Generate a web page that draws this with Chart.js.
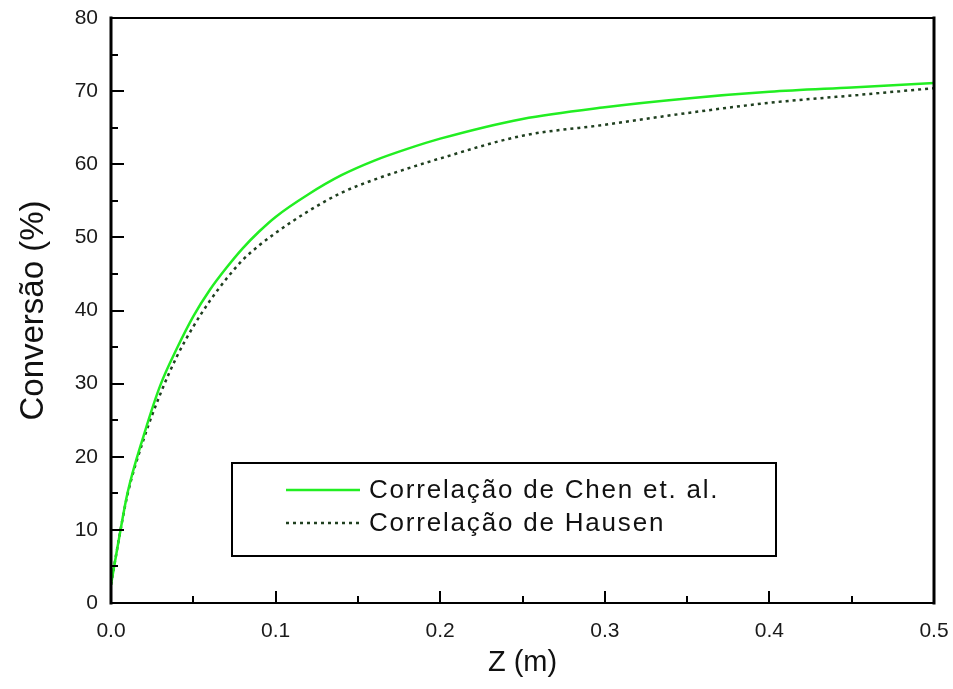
<!DOCTYPE html>
<html>
<head>
<meta charset="utf-8">
<script src="https://cdn.jsdelivr.net/npm/chart.js@4/dist/chart.umd.min.js"></script>
<style>
  body { margin: 0; background: #fff; }
  #wrap { width: 953px; height: 689px; }
</style>
</head>
<body>
<div id="wrap"><canvas id="convChart" width="953" height="689"></canvas></div>
<script>
// values
const zValues = [0, 0.005, 0.01, 0.02, 0.03, 0.04, 0.05, 0.06, 0.07, 0.08, 0.09, 0.1,
  0.12, 0.14, 0.16, 0.18, 0.2, 0.25, 0.3, 0.35, 0.4, 0.45, 0.5];
const chenValues = [2.5, 9, 15, 23, 29.8, 34.8, 39.2, 42.8, 45.8, 48.5, 50.8, 52.8,
  55.9, 58.5, 60.5, 62.1, 63.5, 66.2, 67.8, 69.0, 69.9, 70.5, 71.1];
const hausenValues = [2.5, 9, 14.8, 22.5, 28.6, 33.7, 37.8, 41.3, 44.3, 46.9, 48.9, 50.6,
  53.6, 56.1, 57.9, 59.4, 60.8, 63.9, 65.4, 67.0, 68.4, 69.4, 70.4];
const seriesLabels = ['Correlação de Chen et. al.', 'Correlação de Hausen'];
const xTicks = [0, 0.1, 0.2, 0.3, 0.4, 0.5];
const yTicks = [0, 10, 20, 30, 40, 50, 60, 70, 80];

function toPoints(ys) {
  return zValues.map((z, i) => ({ x: z, y: ys[i] }));
}

// frame + inward ticks
const framePlugin = {
  id: 'frame',
  afterDatasetsDraw(chart) {
    const ctx = chart.ctx;
    const a = chart.chartArea;
    const xs = chart.scales.x, ys = chart.scales.y;
    ctx.save();
    ctx.strokeStyle = '#000';
    ctx.lineCap = 'square';
    // ticks on left axis
    ctx.lineWidth = 2;
    for (let v = 0; v <= 80; v += 5) {
      const py = Math.round(ys.getPixelForValue(v));
      const len = v % 10 === 0 ? 12 : 6;
      ctx.beginPath();
      ctx.moveTo(a.left, py);
      ctx.lineTo(a.left + len, py);
      ctx.stroke();
    }
    // ticks on bottom axis
    for (let i = 0; i <= 10; i++) {
      const px = Math.round(xs.getPixelForValue(i * 0.05));
      const len = i % 2 === 0 ? 11 : 6;
      ctx.beginPath();
      ctx.moveTo(px, a.bottom);
      ctx.lineTo(px, a.bottom - len);
      ctx.stroke();
    }
    // box
    ctx.lineWidth = 2;
    ctx.beginPath();
    ctx.moveTo(a.left, a.top);
    ctx.lineTo(a.right, a.top);
    ctx.moveTo(a.left, a.bottom);
    ctx.lineTo(a.right, a.bottom);
    ctx.stroke();
    ctx.lineWidth = 3;
    ctx.beginPath();
    ctx.moveTo(a.left, a.top);
    ctx.lineTo(a.left, a.bottom);
    ctx.moveTo(a.right, a.top);
    ctx.lineTo(a.right, a.bottom);
    ctx.stroke();
    ctx.restore();
  }
};

// legend box inside the plot
const boxLegend = {
  id: 'boxLegend',
  afterDraw(chart) {
    const ctx = chart.ctx;
    const a = chart.chartArea;
    const bx = a.left + 121, by = a.top + 445, bw = 544, bh = 93;
    ctx.save();
    ctx.fillStyle = '#fff';
    ctx.fillRect(bx, by, bw, bh);
    ctx.strokeStyle = '#000';
    ctx.lineWidth = 2;
    ctx.strokeRect(bx, by, bw, bh);
    ctx.font = '26px "Liberation Sans", Arial, sans-serif';
    ctx.letterSpacing = '1.8px';
    ctx.textBaseline = 'middle';
    ctx.fillStyle = '#111';
    chart.data.datasets.forEach((ds, i) => {
      const ly = by + 27 + i * 33;
      ctx.strokeStyle = ds.borderColor;
      ctx.lineWidth = ds.borderWidth;
      ctx.setLineDash(ds.borderDash || []);
      ctx.beginPath();
      ctx.moveTo(bx + 54, ly);
      ctx.lineTo(bx + 128, ly);
      ctx.stroke();
      ctx.setLineDash([]);
      ctx.fillText(ds.label, bx + 137, ly + 1);
    });
    ctx.restore();
  }
};

new Chart(document.getElementById('convChart'), {
  type: 'line',
  data: {
    datasets: [
      {
        label: seriesLabels[0],
        data: toPoints(chenValues),
        borderColor: '#22ee22',
        borderWidth: 2.5,
        pointRadius: 0,
        tension: 0.4,
        cubicInterpolationMode: 'monotone'
      },
      {
        label: seriesLabels[1],
        data: toPoints(hausenValues),
        borderColor: '#1f3f1f',
        borderWidth: 2.5,
        borderDash: [3, 4],
        pointRadius: 0,
        tension: 0.4,
        cubicInterpolationMode: 'monotone'
      }
    ]
  },
  options: {
    responsive: false,
    animation: false,
    layout: { padding: { left: 0, right: 19, top: 18, bottom: 0 } },
    plugins: { legend: { display: false }, tooltip: { enabled: false } },
    scales: {
      x: {
        type: 'linear',
        min: 0,
        max: 0.5,
        afterBuildTicks(scale) { scale.ticks = xTicks.map(v => ({ value: v })); },
        afterFit(scale) {
          scale.height = 86;
          scale.paddingLeft = 0;
          scale.paddingRight = 0;
        },
        grid: { display: false, drawTicks: false },
        border: { display: false },
        ticks: {
          padding: 16,
          color: '#1a1a1a',
          font: { family: '"Liberation Sans", Arial, sans-serif', size: 21 },
          maxRotation: 0,
          callback: v => v.toFixed(1)
        },
        title: {
          display: true,
          text: 'Z (m)',
          color: '#111',
          font: { family: '"Liberation Sans", Arial, sans-serif', size: 29 },
          padding: { top: 0, bottom: 9 }
        }
      },
      y: {
        min: 0,
        max: 80,
        afterBuildTicks(scale) { scale.ticks = yTicks.map(v => ({ value: v })); },
        afterFit(scale) {
          scale.width = 111;
          scale.paddingTop = 0;
          scale.paddingBottom = 0;
        },
        grid: { display: false, drawTicks: false },
        border: { display: false },
        ticks: {
          padding: 13,
          color: '#1a1a1a',
          font: { family: '"Liberation Sans", Arial, sans-serif', size: 21 }
        },
        title: {
          display: true,
          text: 'Conversão (%)',
          color: '#111',
          font: { family: '"Liberation Sans", Arial, sans-serif', size: 33 },
          padding: { top: 14, bottom: 0 }
        }
      }
    }
  },
  plugins: [framePlugin, boxLegend]
});
</script>
</body>
</html>
